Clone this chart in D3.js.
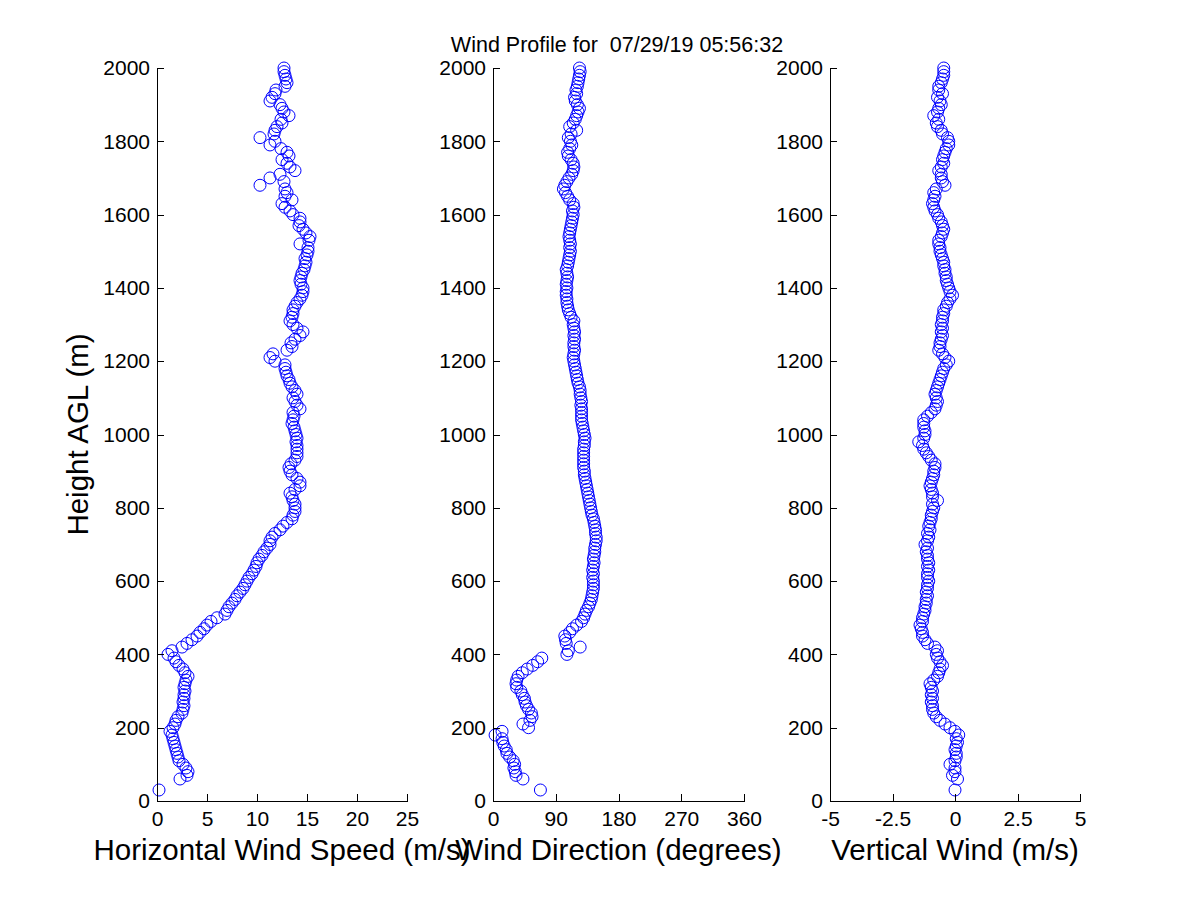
<!DOCTYPE html>
<html>
<head>
<meta charset="utf-8">
<script src="https://cdn.jsdelivr.net/npm/d3@7"></script>
<style>
  body { margin: 0; background: #fff; }
  svg { display: block; font-family: "Liberation Sans", Arial, sans-serif; }
</style>
</head>
<body>
<script>
// Heights above ground level (m)
const heights = [
  30,
  60, 70, 80, 90, 100, 110, 120, 130, 140, 150,
  160, 170, 180, 190, 200, 210, 220, 230, 240, 250,
  260, 270, 280, 290, 300, 310, 320, 330, 340, 350,
  360, 370, 380, 390, 400, 410, 420, 430, 440, 450,
  460, 470, 480, 490, 500, 510, 520, 530, 540, 550,
  560, 570, 580, 590, 600, 610, 620, 630, 640, 650,
  660, 670, 680, 690, 700, 710, 720, 730, 740, 750,
  760, 770, 780, 790, 800, 810, 820, 830, 840, 850,
  860, 870, 880, 890, 900, 910, 920, 930, 940, 950,
  960, 970, 980, 990, 1000, 1010, 1020, 1030, 1040, 1050,
  1060, 1070, 1080, 1090, 1100, 1110, 1120, 1130, 1140, 1150,
  1160, 1170, 1180, 1190, 1200, 1210, 1220, 1230, 1240, 1250,
  1260, 1270, 1280, 1290, 1300, 1310, 1320, 1330, 1340, 1350,
  1360, 1370, 1380, 1390, 1400, 1410, 1420, 1430, 1440, 1450,
  1460, 1470, 1480, 1490, 1500, 1510, 1520, 1530, 1540, 1550,
  1560, 1570, 1580, 1590, 1600, 1610, 1620, 1630, 1640, 1650,
  1660, 1670, 1680, 1690, 1700, 1710, 1720, 1730, 1740, 1750,
  1760, 1770, 1780, 1790, 1800, 1810, 1820, 1830, 1840, 1850,
  1860, 1870, 1880, 1890, 1900, 1910, 1920, 1930, 1940, 1950,
  1960, 1970, 1980, 1990, 2000
];

// Horizontal wind speed (m/s)
const speed = [
  0.2,
  2.3, 3.0, 3.1, 2.9, 2.6, 2.2, 2.1, 2.0, 1.9, 1.8,
  1.7, 1.6, 1.5, 1.3, 1.6, 1.8, 1.9, 2.1, 2.5, 2.6,
  2.7, 2.6, 2.7, 2.7, 2.8, 2.7, 2.8, 2.9, 3.1, 2.8,
  2.6, 2.2, 1.9, 1.7, 1.1, 1.5, 2.5, 3.0, 3.5, 4.0,
  4.3, 4.7, 5.0, 5.4, 6.0, 6.8, 7.0, 7.2, 7.5, 7.8,
  8.0, 8.3, 8.6, 8.8, 9.0, 9.2, 9.5, 9.7, 9.9, 10.0,
  10.2, 10.5, 10.7, 11.0, 11.3, 11.3, 11.5, 11.8, 12.3, 12.6,
  13.0, 13.5, 13.6, 13.8, 13.8, 13.8, 13.6, 13.5, 13.3, 13.8,
  14.3, 14.3, 14.0, 13.5, 13.3, 13.2, 13.4, 13.8, 14.0, 14.0,
  14.0, 14.0, 13.9, 14.0, 13.9, 13.8, 13.7, 13.5, 13.6, 13.7,
  13.6, 14.3, 14.0, 13.8, 13.6, 14.0, 13.8, 13.5, 13.3, 13.2,
  13.0, 12.9, 12.8, 12.8, 11.8, 11.3, 11.6, 13.0, 13.5, 13.4,
  13.8, 14.3, 14.6, 14.0, 13.6, 13.3, 13.5, 13.6, 13.6, 13.8,
  14.0, 14.3, 14.5, 14.6, 14.6, 14.4, 14.3, 14.4, 14.5, 14.7,
  14.8, 14.9, 14.8, 15.0, 15.1, 15.1, 14.3, 15.2, 15.3, 14.9,
  14.6, 14.2, 14.3, 14.3, 13.6, 13.3, 12.8, 12.5, 13.5, 12.8,
  13.0, 12.8, 10.3, 12.7, 11.3, 12.3, 13.8, 13.3, 13.0, 12.5,
  13.2, 13.0, 12.4, 11.3, 11.8, 10.3, 11.7, 11.8, 12.0, 12.5,
  12.4, 13.2, 12.7, 12.5, 12.3, 11.3, 11.5, 11.8, 11.9, 12.8,
  13.0, 12.9, 12.8, 12.7, 12.7
];

// Wind direction (degrees)
const direction = [
  68,
  43, 33, 32, 30, 31, 29, 24, 20, 19, 16,
  14, 13, 3, 13, 51, 43, 53, 56, 55, 51,
  48, 46, 45, 42, 40, 34, 33, 34, 36, 42,
  49, 57, 64, 70, 106, 108, 125, 105, 104, 103,
  110, 114, 120, 127, 130, 132, 134, 137, 139, 141,
  142, 143, 144, 144, 144, 143, 144, 143, 144, 145,
  144, 145, 146, 146, 147, 148, 148, 147, 147, 146,
  145, 144, 142, 141, 140, 139, 138, 137, 136, 135,
  134, 133, 132, 131, 131, 130, 130, 130, 130, 130,
  130, 131, 131, 132, 131, 130, 129, 128, 127, 127,
  127, 127, 126, 127, 126, 125, 125, 124, 122, 121,
  120, 119, 118, 117, 116, 115, 116, 117, 116, 116,
  117, 116, 117, 116, 115, 116, 112, 110, 108, 107,
  106, 106, 105, 105, 106, 105, 106, 107, 106, 105,
  107, 108, 109, 110, 111, 110, 111, 110, 109, 110,
  111, 112, 113, 114, 115, 114, 116, 115, 110, 107,
  104, 101, 103, 106, 109, 113, 115, 116, 115, 112,
  108, 107, 110, 113, 111, 108, 112, 120, 110, 115,
  118, 120, 122, 124, 121, 118, 117, 120, 119, 121,
  122, 123, 124, 125, 124
];

// Vertical wind (m/s)
const vertical = [
  0.0,
  0.1, -0.1, 0.0, 0.0, -0.2, 0.0, 0.05, 0.05, 0.0, 0.05,
  0.1, 0.05, 0.15, 0.0, -0.2, -0.4, -0.6, -0.75, -0.85, -0.9,
  -0.9, -0.95, -0.9, -0.95, -0.9, -0.95, -1.0, -0.85, -0.7, -0.65,
  -0.6, -0.5, -0.6, -0.7, -0.75, -0.7, -0.8, -1.1, -1.2, -1.3,
  -1.3, -1.35, -1.4, -1.3, -1.3, -1.25, -1.2, -1.2, -1.15, -1.15,
  -1.1, -1.15, -1.1, -1.1, -1.05, -1.1, -1.1, -1.05, -1.1, -1.05,
  -1.1, -1.1, -1.15, -1.1, -1.2, -1.1, -1.05, -1.1, -1.0, -1.05,
  -1.0, -0.95, -0.95, -0.9, -0.85, -0.9, -0.7, -0.9, -0.9, -0.95,
  -1.0, -0.95, -0.9, -0.85, -0.85, -0.8, -0.8, -0.95, -1.05, -1.15,
  -1.25, -1.3, -1.45, -1.25, -1.2, -1.2, -1.25, -1.25, -1.25, -1.1,
  -0.95, -0.8, -0.75, -0.7, -0.75, -0.8, -0.75, -0.7, -0.65, -0.6,
  -0.55, -0.5, -0.45, -0.35, -0.25, -0.4, -0.5, -0.65, -0.6, -0.6,
  -0.55, -0.5, -0.55, -0.5, -0.55, -0.5, -0.5, -0.45, -0.45, -0.35,
  -0.3, -0.2, -0.1, -0.2, -0.25, -0.3, -0.35, -0.35, -0.4, -0.4,
  -0.45, -0.45, -0.5, -0.55, -0.6, -0.6, -0.65, -0.65, -0.55, -0.5,
  -0.45, -0.5, -0.55, -0.65, -0.7, -0.8, -0.85, -0.9, -0.85, -0.8,
  -0.85, -0.75, -0.4, -0.5, -0.55, -0.55, -0.65, -0.55, -0.45, -0.5,
  -0.45, -0.4, -0.35, -0.25, -0.25, -0.3, -0.5, -0.55, -0.7, -0.75,
  -0.65, -0.85, -0.7, -0.65, -0.55, -0.6, -0.7, -0.5, -0.65, -0.65,
  -0.55, -0.5, -0.45, -0.45, -0.45
];

const heightTicks = [0, 200, 400, 600, 800, 1000, 1200, 1400, 1600, 1800, 2000];
const speedTicks = [0, 5, 10, 15, 20, 25];
const directionTicks = [0, 90, 180, 270, 360];
const verticalTicks = [-5, -2.5, 0, 2.5, 5];

const titleText = "Wind Profile for  07/29/19 05:56:32";

const width = 1200;
const height = 900;
const plotTop = 68;
const plotBottom = 801;
const tickLen = 7;

const panels = [
  { values: speed, domain: [0, 25], ticks: speedTicks, left: 157, right: 407,
    label: "Horizontal Wind Speed (m/s)" },
  { values: direction, domain: [0, 360], ticks: directionTicks, left: 493, right: 744,
    label: "Wind Direction (degrees)" },
  { values: vertical, domain: [-5, 5], ticks: verticalTicks, left: 830, right: 1080,
    label: "Vertical Wind (m/s)" }
];

const svg = d3.select("body")
  .append("svg")
  .attr("width", width)
  .attr("height", height);

svg.append("rect")
  .attr("width", width)
  .attr("height", height)
  .attr("fill", "#fff");

const scaleY = d3.scaleLinear()
  .domain([0, 2000])
  .range([plotBottom, plotTop]);

panels.forEach(p => {
  const scaleX = d3.scaleLinear()
    .domain(p.domain)
    .range([p.left, p.right]);

  const g = svg.append("g");

  // points first, axes on top
  g.append("g")
    .selectAll("circle")
    .data(heights.map((h, i) => ({ h, v: p.values[i] })))
    .join("circle")
    .attr("cx", d => scaleX(d.v))
    .attr("cy", d => scaleY(d.h))
    .attr("r", 6)
    .attr("fill", "none")
    .attr("stroke", "#0000ff")
    .attr("stroke-width", 1);

  const yAxis = g.append("g")
    .attr("transform", `translate(${p.left},0)`)
    .call(d3.axisLeft(scaleY)
      .tickValues(heightTicks)
      .tickFormat(d3.format("d"))
      .tickSizeInner(-tickLen)
      .tickSizeOuter(0)
      .tickPadding(7));

  const xAxis = g.append("g")
    .attr("transform", `translate(0,${plotBottom})`)
    .call(d3.axisBottom(scaleX)
      .tickValues(p.ticks)
      .tickFormat(d => String(d))
      .tickSizeInner(-tickLen)
      .tickSizeOuter(0)
      .tickPadding(10));

  [yAxis, xAxis].forEach(ax => {
    ax.attr("font-family", null).attr("font-size", 21);
    ax.selectAll("path, line").attr("stroke", "#000").attr("shape-rendering", "crispEdges");
    ax.selectAll("text").attr("fill", "#000");
  });

  g.append("text")
    .attr("x", (p.left + p.right) / 2)
    .attr("y", 860)
    .attr("text-anchor", "middle")
    .attr("font-size", 29.5)
    .attr("fill", "#000")
    .text(p.label);
});

svg.append("text")
  .attr("transform", `translate(88,${(plotTop + plotBottom) / 2}) rotate(-90)`)
  .attr("text-anchor", "middle")
  .attr("font-size", 29.5)
  .attr("fill", "#000")
  .text("Height AGL (m)");

svg.append("text")
  .attr("x", 617)
  .attr("y", 52)
  .attr("text-anchor", "middle")
  .attr("font-size", 21.5)
  .attr("fill", "#000")
  .style("white-space", "pre")
  .text(titleText);
</script>
</body>
</html>
